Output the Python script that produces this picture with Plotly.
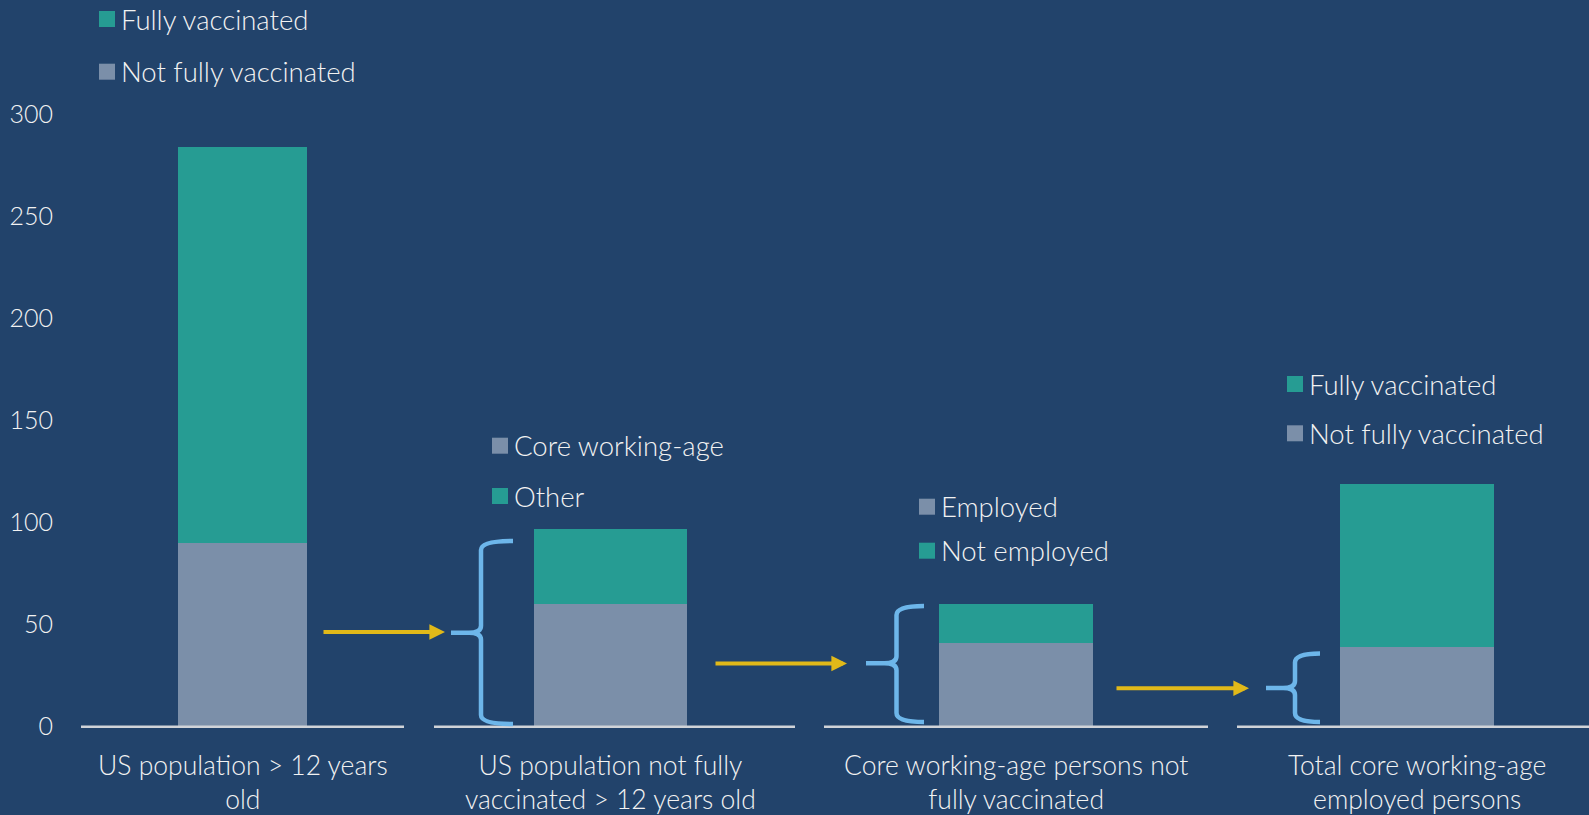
import plotly.graph_objects as go

# ---------------- data ----------------
categories = [
    "US population > 12 years<br>old",
    "US population not fully<br>vaccinated > 12 years old",
    "Core working-age persons not<br>fully vaccinated",
    "Total core working-age<br>employed persons",
]
bottom_values = [90, 60, 41, 39]     # grey (lower) segment, millions
top_values = [194, 37, 19, 80]       # teal (upper) segment, millions
legend_labels = [
    ["Fully vaccinated", "Not fully vaccinated"],
    ["Core working-age", "Other"],
    ["Employed", "Not employed"],
    ["Fully vaccinated", "Not fully vaccinated"],
]
legend_kinds = [["top", "bottom"], ["bottom", "top"], ["bottom", "top"], ["top", "bottom"]]
y_ticks = [0, 50, 100, 150, 200, 250, 300]

# ---------------- style / layout ----------------
W, H = 1589, 815
BG = "#22436B"
TEAL = "#269C93"
GREY = "#7B8FA9"
YELLOW = "#E1B919"
BRACE = "#6DB6EA"
AXIS = "#D0D3D8"
TXT = "#F2F2F2"
FONT = "Lato"
FS_LEG = 27.5
FS_CAT = 26.5
FS_TICK = 25
WEIGHT = 300

L_MARGIN = 68
ZERO_PX = 726.7          # pixel row of value 0
PX_PER_UNIT = 2.04


def yv(px):
    """pixel row -> data value"""
    return (ZERO_PX - px) / PX_PER_UNIT


bar_centers = [242.5, 610.5, 1016, 1417]
bar_widths = [129, 153, 154, 154]
baselines = [(81, 404), (434, 795), (824, 1208), (1237, 1589)]
# arrows: (x_tail, x_head, y_px)
arrows = [(322, 445, 632), (714, 847, 663.5), (1115, 1249, 688.3)]
# braces: (x_tip, x_vertical, x_right, y_top_px, y_mid_px, y_bot_px)
braces = [
    (451, 481, 513, 541, 632.7, 724),
    (866, 896.5, 924, 606, 663.3, 722),
    (1266, 1295, 1320, 653.5, 688, 722),
]
# legends: (square left x, first row centre px, second row centre px)
legend_pos = [(99, 19, 71.7), (492, 445.7, 496), (919, 506.7, 550.7), (1287, 384, 433.3)]
label_mid_px = 782

colors = {"top": TEAL, "bottom": GREY}

fig = go.Figure()
fig.add_trace(go.Bar(x=bar_centers, y=bottom_values, width=bar_widths,
                     marker=dict(color=GREY, line=dict(width=0)), showlegend=False,
                     name="Lower segment"))
fig.add_trace(go.Bar(x=bar_centers, y=top_values, width=bar_widths,
                     marker=dict(color=TEAL, line=dict(width=0)), showlegend=False,
                     name="Upper segment"))

shapes = []
annotations = []

# baselines
for x0, x1 in baselines:
    shapes.append(dict(type="line", xref="x", yref="y", x0=x0, x1=x1, y0=0, y1=0,
                       line=dict(color=AXIS, width=2.5), layer="above"))

# arrows
for xt, xh, ypx in arrows:
    y = yv(ypx)
    annotations.append(dict(x=xh, y=y, ax=xt, ay=y, xref="x", yref="y", axref="x", ayref="y",
                            text="", showarrow=True, arrowhead=2, arrowsize=0.78,
                            arrowwidth=4, arrowcolor=YELLOW))

# braces
for xtip, xv, xr, ytp, ymp, ybp in braces:
    yt, ym, yb = yv(ytp), yv(ymp), yv(ybp)
    r = 9 / PX_PER_UNIT
    rt = 7 / PX_PER_UNIT
    p = (f"M{xr},{yt} Q{xv},{yt} {xv},{yt - r} L{xv},{ym + rt} "
         f"Q{xv},{ym} {xv - 12},{ym} L{xtip},{ym} M{xv - 12},{ym} "
         f"Q{xv},{ym} {xv},{ym - rt} L{xv},{yb + r} Q{xv},{yb} {xr},{yb}")
    shapes.append(dict(type="path", xref="x", yref="y", path=p,
                       line=dict(color=BRACE, width=4.5)))

# legends
for (sx, r1, r2), labels, kinds in zip(legend_pos, legend_labels, legend_kinds):
    for rowpx, lab, kind in zip((r1, r2), labels, kinds):
        shapes.append(dict(type="rect", xref="x", yref="y", x0=sx, x1=sx + 16,
                           y0=yv(rowpx + 8), y1=yv(rowpx - 8),
                           fillcolor=colors[kind], line=dict(width=0)))
        annotations.append(dict(x=sx + 20, y=yv(rowpx), xref="x", yref="y",
                                text=lab, showarrow=False, xanchor="left", yanchor="middle",
                                font=dict(family=FONT, size=FS_LEG, color=TXT, weight=WEIGHT)))

# category labels
for cx, cat in zip(bar_centers, categories):
    annotations.append(dict(x=cx, y=yv(label_mid_px), xref="x", yref="y", text=cat,
                            showarrow=False, xanchor="center", yanchor="middle",
                            font=dict(family=FONT, size=FS_CAT, color=TXT, weight=WEIGHT)))

fig.update_layout(
    width=W, height=H,
    paper_bgcolor=BG, plot_bgcolor=BG,
    margin=dict(l=L_MARGIN, r=0, t=0, b=0),
    barmode="stack", bargap=0,
    shapes=shapes, annotations=annotations,
    font=dict(family=FONT, size=FS_TICK, color=TXT),
    xaxis=dict(range=[L_MARGIN, W], visible=False, fixedrange=True),
    yaxis=dict(range=[yv(H), yv(0)], tickvals=y_ticks, ticktext=[str(t) for t in y_ticks],
               showgrid=False, zeroline=False, showline=False,
               ticks="outside", ticklen=9, tickcolor="rgba(0,0,0,0)",
               tickfont=dict(family=FONT, size=FS_TICK, color=TXT, weight=WEIGHT)),
)

fig.write_html(
    "out.html",
    config={"displayModeBar": False},
    post_script="document.body.style.margin='0';document.body.style.overflow='hidden';",
)
